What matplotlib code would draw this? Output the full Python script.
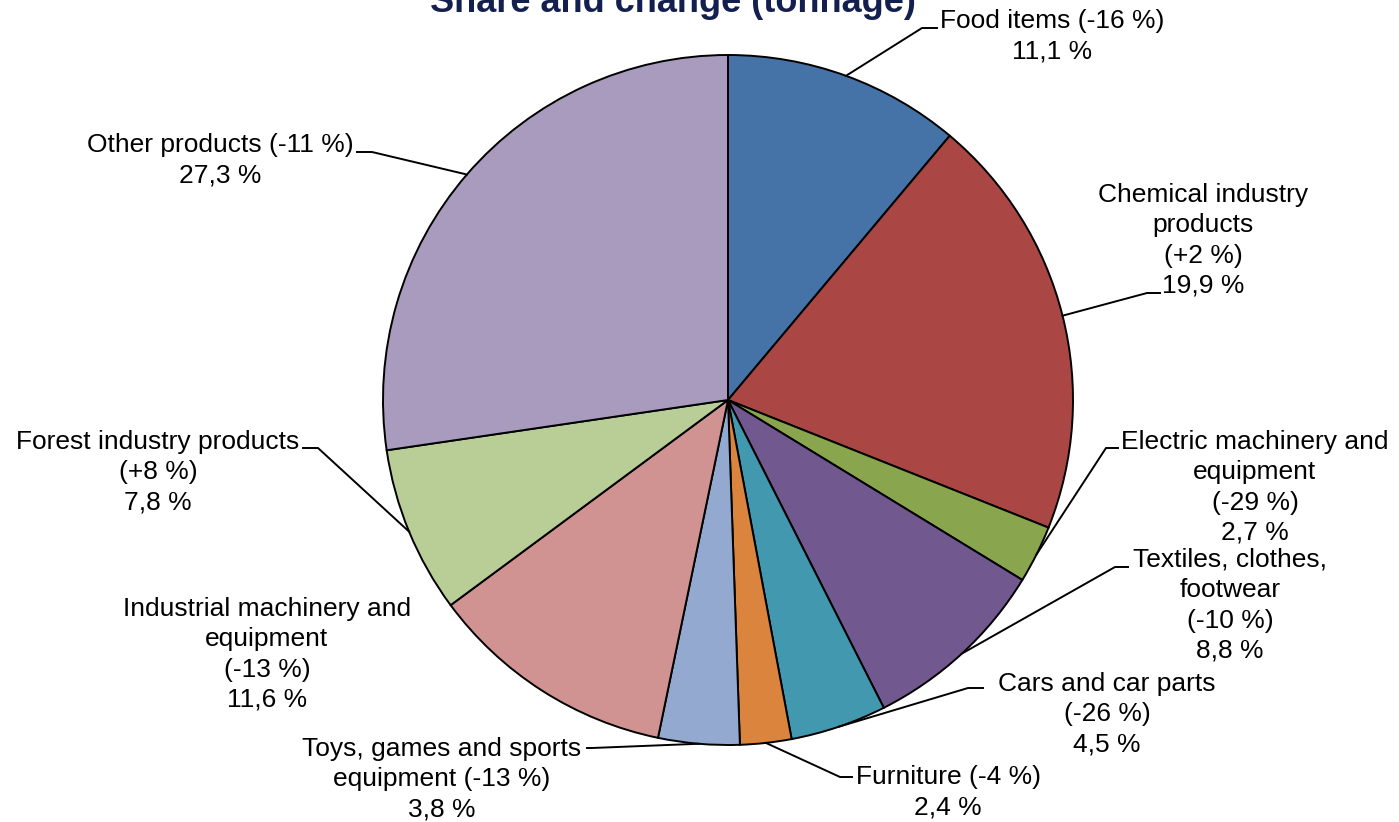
import numpy as np
import matplotlib
matplotlib.use("Agg")
from matplotlib import pyplot as plt

W, H = 1399, 822

categories = ["Food items", "Chemical industry products", "Electric machinery and equipment",
              "Textiles, clothes, footwear", "Cars and car parts", "Furniture",
              "Toys, games and sports equipment", "Industrial machinery and equipment",
              "Forest industry products", "Other products"]
shares = [11.1, 19.9, 2.7, 8.8, 4.5, 2.4, 3.8, 11.6, 7.8, 27.3]
changes = ["-16 %", "+2 %", "-29 %", "-10 %", "-26 %", "-4 %", "-13 %", "-13 %", "+8 %", "-11 %"]
colors = ["#4572A7", "#AA4643", "#89A54E", "#71588F", "#4198AF",
          "#DB843D", "#93A9CF", "#D19392", "#B9CD96", "#A99BBD"]

# how each label is broken into lines (text only)
label_lines = [
    ["Food items ({c})", "{s}"],
    ["Chemical industry", "products", "({c})", "{s}"],
    ["Electric machinery and", "equipment", "({c})", "{s}"],
    ["Textiles, clothes,", "footwear", "({c})", "{s}"],
    ["Cars and car parts", "({c})", "{s}"],
    ["Furniture ({c})", "{s}"],
    ["Toys, games and sports", "equipment ({c})", "{s}"],
    ["Industrial machinery and", "equipment", "({c})", "{s}"],
    ["Forest industry products", "({c})", "{s}"],
    ["Other products ({c})", "{s}"],
]

# layout (pixels, y down): label centre x, first line y, leader elbow and end
label_pos = [(1052, 19), (1203, 193), (1255, 440), (1230, 558), (1107, 682),
             (948, 775), (442, 747), (267, 607), (158, 440), (220, 143)]
elbows = [((922, 28), (937, 28)), ((1147, 293), (1160, 293)), ((1106, 448), (1118, 448)),
          ((1115, 567), (1128, 567)), ((968, 688), (983, 688)), ((840, 777), (852, 777)),
          ((592, 748), (587, 748)), None, ((318, 448), (303, 448)), ((372, 152), (357, 152))]

cx, cy, R = 728, 400, 345
line_h = 30.3
font = "Liberation Sans"


def py(y):
    return H - y


fig = plt.figure(figsize=(W / 100, H / 100), dpi=100)
ax = fig.add_axes([0, 0, 1, 1])
ax.pie(shares, colors=colors, startangle=90, counterclock=False,
       center=(cx, py(cy)), radius=R,
       wedgeprops=dict(edgecolor="black", linewidth=1.4))
ax.set_xlim(0, W)
ax.set_ylim(0, H)
ax.set_aspect("equal")
ax.axis("off")

# leader lines start at the middle of each wedge's arc
cum = np.cumsum([0] + shares[:-1])
mids = cum + np.array(shares) / 2
total = sum(shares)
for i, m in enumerate(mids):
    ang = np.deg2rad(90 - 360 * m / total)
    sx, sy = cx + R * np.cos(ang), py(cy) + R * np.sin(ang)
    if elbows[i] is not None:
        (ex, ey), (fx, fy) = elbows[i]
        ax.plot([sx, ex, fx], [sy, py(ey), py(fy)], color="black", lw=1.4,
                solid_joinstyle="miter")

for i in range(len(categories)):
    s = ("%.1f %%" % shares[i]).replace(".", ",")
    x0, y0 = label_pos[i]
    for k, ln in enumerate(label_lines[i]):
        txt = ln.format(c=changes[i], s=s)
        ax.text(x0, py(y0 + k * line_h + 9), txt, ha="center", va="baseline",
                fontsize=19, family=font, color="black")

ax.text(673, py(12), "Share and change (tonnage)", ha="center", va="baseline",
        fontsize=26, fontweight="bold", family=font, color="#13204F")

fig.savefig("out.png", dpi=100)
